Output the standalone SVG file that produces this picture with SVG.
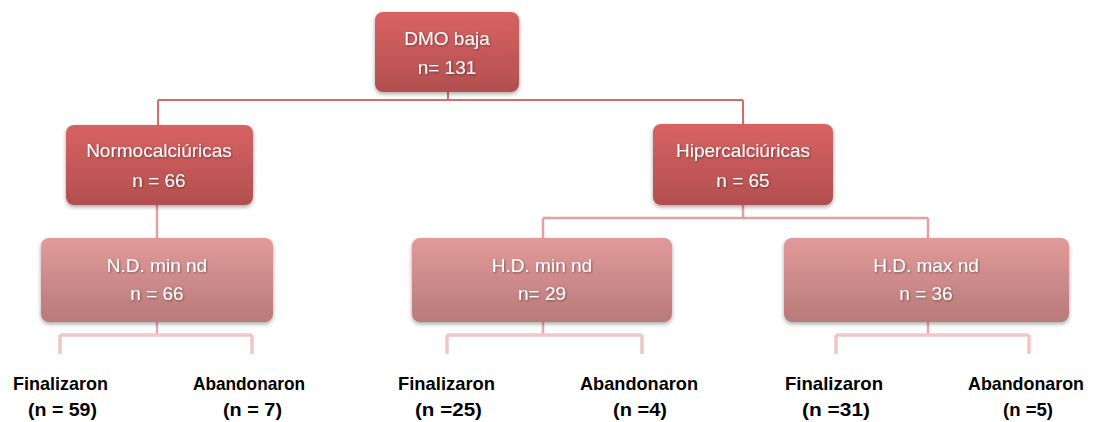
<svg xmlns="http://www.w3.org/2000/svg" width="1093" height="422" viewBox="0 0 1093 422">
<defs>
<linearGradient id="gDark" x1="0" y1="0" x2="0" y2="1">
<stop offset="0" stop-color="#d86262"/>
<stop offset="1" stop-color="#b24f4f"/>
</linearGradient>
<linearGradient id="gLight" x1="0" y1="0" x2="0" y2="1">
<stop offset="0" stop-color="#e29a9a"/>
<stop offset="1" stop-color="#b87a7a"/>
</linearGradient>
<filter id="sh" x="-10%" y="-10%" width="120%" height="130%">
<feGaussianBlur in="SourceAlpha" stdDeviation="2"/>
<feOffset dx="0" dy="1.5" result="b"/>
<feComponentTransfer><feFuncA type="linear" slope="0.35"/></feComponentTransfer>
<feMerge><feMergeNode/><feMergeNode in="SourceGraphic"/></feMerge>
</filter>
<filter id="tsh" x="-10%" y="-30%" width="120%" height="160%">
<feGaussianBlur in="SourceAlpha" stdDeviation="0.8"/>
<feOffset dx="0.5" dy="1" result="b"/>
<feComponentTransfer><feFuncA type="linear" slope="0.4"/></feComponentTransfer>
<feMerge><feMergeNode/><feMergeNode in="SourceGraphic"/></feMerge>
</filter>
</defs>
<style>
.dark{fill:url(#gDark);filter:url(#sh)}
.light{fill:url(#gLight);filter:url(#sh)}
.bt{font-family:"Liberation Sans",Arial,sans-serif;font-size:19px;fill:#ffffff;text-anchor:middle;filter:url(#tsh)}
.lb{font-family:"Liberation Sans",Arial,sans-serif;font-size:19px;font-weight:bold;fill:#000000}
.c1{fill:none;stroke:#d46c6c;stroke-width:2}
.c2{fill:none;stroke:#e2a2a2;stroke-width:2.5}
.c3{fill:none;stroke:#f0c6c6;stroke-width:3.5}
.c3s{fill:none;stroke:#e6aaaa;stroke-width:2.5}
</style>
<g id="connectors">
<path class="c1" d="M448 92 V100 M158 100 H743 M158 100 V125 M743 100 V124"/>
<path class="c2" d="M157 205 V238 M743 205 V218 M543 218 H928 M543 218 V238 M928 218 V238"/>
<path class="c3s" d="M157 322 V335 M543 322 V335 M928 322 V335"/>
<path class="c3" d="M60 335 H252 M60 335 V354 M252 335 V354"/>
<path class="c3" d="M447 335 H642 M447 335 V354 M642 335 V354"/>
<path class="c3" d="M836 335 H1029 M836 335 V354 M1029 335 V354"/>
</g>
<g id="n-dmo">
<rect class="dark" x="375" y="12" width="144" height="80" rx="8"/>
<text class="bt" x="447" y="45">DMO baja</text>
<text class="bt" x="447" y="74">n= 131</text>
</g>
<g id="n-normo">
<rect class="dark" x="66" y="125" width="187" height="80" rx="8"/>
<text class="bt" x="159" y="157">Normocalciúricas</text>
<text class="bt" x="159" y="187">n = 66</text>
</g>
<g id="n-hiper">
<rect class="dark" x="653" y="124" width="180" height="81" rx="8"/>
<text class="bt" x="743" y="157">Hipercalciúricas</text>
<text class="bt" x="743" y="187">n = 65</text>
</g>
<g id="n-ndmin">
<rect class="light" x="41" y="238" width="232" height="84" rx="8"/>
<text class="bt" x="157" y="272">N.D. min nd</text>
<text class="bt" x="157" y="300">n = 66</text>
</g>
<g id="n-hdmin">
<rect class="light" x="412" y="238" width="260" height="84" rx="8"/>
<text class="bt" x="542" y="272">H.D. min nd</text>
<text class="bt" x="542" y="300">n= 29</text>
</g>
<g id="n-hdmax">
<rect class="light" x="784" y="238" width="285" height="84" rx="8"/>
<text class="bt" x="926" y="272">H.D. max nd</text>
<text class="bt" x="926" y="300">n = 36</text>
</g>
<g id="l-fin1">
<text class="lb" x="13" y="390" textLength="95" lengthAdjust="spacingAndGlyphs">Finalizaron</text>
<text class="lb" x="28" y="416" textLength="69" lengthAdjust="spacingAndGlyphs">(n = 59)</text>
</g>
<g id="l-ab1">
<text class="lb" x="193" y="390" textLength="112" lengthAdjust="spacingAndGlyphs">Abandonaron</text>
<text class="lb" x="223" y="416" textLength="59" lengthAdjust="spacingAndGlyphs">(n = 7)</text>
</g>
<g id="l-fin2">
<text class="lb" x="398" y="390" textLength="97" lengthAdjust="spacingAndGlyphs">Finalizaron</text>
<text class="lb" x="415" y="416" textLength="67" lengthAdjust="spacingAndGlyphs">(n =25)</text>
</g>
<g id="l-ab2">
<text class="lb" x="580" y="390" textLength="118" lengthAdjust="spacingAndGlyphs">Abandonaron</text>
<text class="lb" x="613" y="416" textLength="54" lengthAdjust="spacingAndGlyphs">(n =4)</text>
</g>
<g id="l-fin3">
<text class="lb" x="785" y="390" textLength="98" lengthAdjust="spacingAndGlyphs">Finalizaron</text>
<text class="lb" x="802" y="416" textLength="68" lengthAdjust="spacingAndGlyphs">(n =31)</text>
</g>
<g id="l-ab3">
<text class="lb" x="968" y="390" textLength="116" lengthAdjust="spacingAndGlyphs">Abandonaron</text>
<text class="lb" x="1003" y="416" textLength="50" lengthAdjust="spacingAndGlyphs">(n =5)</text>
</g>
</svg>
